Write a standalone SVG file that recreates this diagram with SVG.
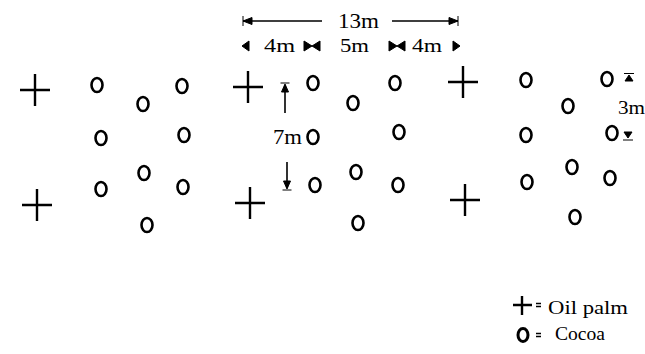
<svg xmlns="http://www.w3.org/2000/svg" width="645" height="354" viewBox="0 0 645 354">
<style>
.c{fill:none;stroke:#000;stroke-width:2.6}
.p{fill:none;stroke:#000;stroke-width:2.4}
.d{stroke:#000;stroke-width:1.6;fill:none}
.h{fill:#000;stroke:#000;stroke-width:1}
.t{font-family:"Liberation Serif",serif;fill:#000}
</style>
<defs>
<ellipse id="co" class="c" rx="5.5" ry="7"/>
<path id="op" class="p" d="M-15 0H15M0 -16V16"/>
</defs>
<rect width="645" height="354" fill="#fff"/>
<g id="palms">
<use href="#op" x="35" y="90"/>
<use href="#op" x="37" y="205"/>
<use href="#op" x="248" y="87"/>
<use href="#op" x="250" y="203"/>
<use href="#op" x="463" y="82"/>
<use href="#op" x="465" y="200"/>
</g>
<g id="cocoa">
<use href="#co" x="97" y="85"/>
<use href="#co" x="143" y="104"/>
<use href="#co" x="182" y="86"/>
<use href="#co" x="101" y="138"/>
<use href="#co" x="184" y="135"/>
<use href="#co" x="144" y="173"/>
<use href="#co" x="101" y="189"/>
<use href="#co" x="183" y="187"/>
<use href="#co" x="147" y="225"/>
<use href="#co" x="313" y="83"/>
<use href="#co" x="353" y="103"/>
<use href="#co" x="395" y="83"/>
<use href="#co" x="313" y="137"/>
<use href="#co" x="399" y="132"/>
<use href="#co" x="315" y="185"/>
<use href="#co" x="356" y="172"/>
<use href="#co" x="398" y="185"/>
<use href="#co" x="358" y="223"/>
<use href="#co" x="526" y="80"/>
<use href="#co" x="568" y="106"/>
<use href="#co" x="607" y="79"/>
<use href="#co" x="526" y="135"/>
<use href="#co" x="612" y="133"/>
<use href="#co" x="572" y="167"/>
<use href="#co" x="527" y="182"/>
<use href="#co" x="610" y="178"/>
<use href="#co" x="575" y="217"/>
</g>
<g id="connectors">
<path class="d" d="M243 21H322M392 21H458"/>
<path class="h" d="M243 21L252 17.5V24.5Z M243 16V26"/>
<path class="h" d="M458 21L449 17.5V24.5Z M458 16V26"/>
<path class="h" d="M242 46L249 41V51Z"/>
<path class="h" d="M312 46L304 41V51Z M312 46L320 41V51Z"/>
<path class="h" d="M397 46L389 41V51Z M397 46L405 41V51Z"/>
<path class="h" d="M460 46L453 41V51Z"/>
<path class="d" d="M285 85V113M287 162V188"/>
<path class="h" d="M285 84L281.5 92H288.5Z M280.5 83H289.5"/>
<path class="h" d="M287 189L283.5 181H290.5Z M282.5 190H291.5"/>
<path class="h" d="M629 75L625 81H633Z M624 73.5H634"/>
<path class="h" d="M628 138L624 132H632Z M623 140H633"/>
</g>
<g id="labels">
<text class="t" x="338" y="28" font-size="21" textLength="41" lengthAdjust="spacingAndGlyphs">13m</text>
<text class="t" x="264" y="52" font-size="19" textLength="31" lengthAdjust="spacingAndGlyphs">4m</text>
<text class="t" x="340" y="52" font-size="19" textLength="29" lengthAdjust="spacingAndGlyphs">5m</text>
<text class="t" x="412" y="52" font-size="19" textLength="30" lengthAdjust="spacingAndGlyphs">4m</text>
<text class="t" x="273" y="144" font-size="20" textLength="29" lengthAdjust="spacingAndGlyphs">7m</text>
<text class="t" x="618" y="114" font-size="19" textLength="27" lengthAdjust="spacingAndGlyphs">3m</text>
</g>
<g id="legend">
<path class="p" d="M513 305H532M522 296V315" stroke-width="3"/>
<path class="d" d="M536 303.5H541M536 306.5H541"/>
<text class="t" x="548" y="314" font-size="19" textLength="80" lengthAdjust="spacingAndGlyphs">Oil palm</text>
<ellipse cx="523" cy="335" rx="5" ry="6.5" fill="none" stroke="#000" stroke-width="3"/>
<path class="d" d="M536 333.5H541M536 336.5H541"/>
<text class="t" x="555" y="340" font-size="19" textLength="50" lengthAdjust="spacingAndGlyphs">Cocoa</text>
</g>
</svg>
